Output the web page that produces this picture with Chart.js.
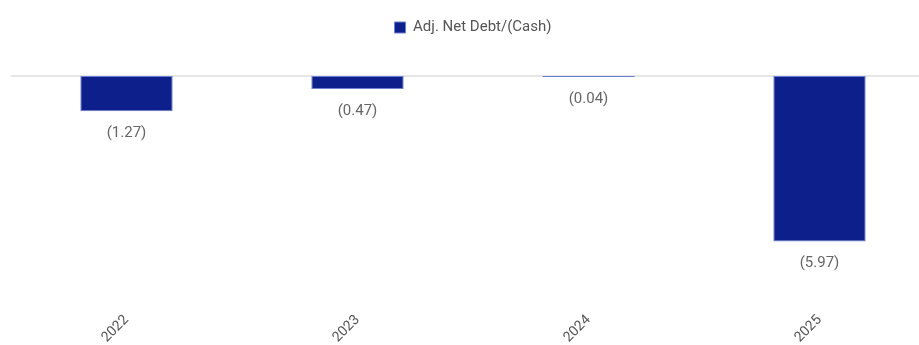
<!DOCTYPE html>
<html>
<head>
<meta charset="utf-8">
<script src="https://cdn.jsdelivr.net/npm/chart.js@4/dist/chart.umd.min.js"></script>
<style>
  html, body { margin: 0; padding: 0; background: #ffffff; overflow: hidden; }
  #wrap { width: 951px; height: 345px; }
</style>
</head>
<body>
<div id="wrap"><canvas id="c" width="951" height="345"></canvas></div>
<script>
// Fiscal years and adjusted net debt / (cash), in billions
const years = ['2022', '2023', '2024', '2025'];
const netDebt = [-1.27, -0.47, -0.04, -5.97];
const seriesName = 'Adj. Net Debt/(Cash)';

const fmt = v => v < 0 ? '(' + Math.abs(v).toFixed(2) + ')' : v.toFixed(2);

// Extra space between the legend and the plot
const legendGap = {
  id: 'legendGap',
  afterInit(chart) {
    const legend = chart.legend;
    const fit = legend.fit;
    legend.fit = function () {
      fit.call(this);
      this.height += 31;
    };
  }
};

// Zero baseline across the plot
const zeroLine = {
  id: 'zeroLine',
  beforeDatasetsDraw(chart) {
    const { ctx, chartArea, scales } = chart;
    const y = scales.y.getPixelForValue(0);
    ctx.save();
    ctx.strokeStyle = '#e6e6e6';
    ctx.lineWidth = 2;
    ctx.beginPath();
    ctx.moveTo(chartArea.left, y);
    ctx.lineTo(chartArea.right, y);
    ctx.stroke();
    ctx.restore();
  }
};

// Value labels under each bar
const valueLabels = {
  id: 'valueLabels',
  afterDatasetsDraw(chart) {
    const { ctx } = chart;
    const meta = chart.getDatasetMeta(0);
    ctx.save();
    ctx.font = '15px Roboto';
    ctx.fillStyle = '#666666';
    ctx.textAlign = 'center';
    ctx.textBaseline = 'middle';
    meta.data.forEach((bar, i) => {
      const v = chart.data.datasets[0].data[i];
      const y = Math.max(bar.y, bar.base) + 22;
      ctx.fillText(fmt(v), bar.x, y);
    });
    ctx.restore();
  }
};

new Chart(document.getElementById('c'), {
  type: 'bar',
  data: {
    labels: years,
    datasets: [{
      label: seriesName,
      data: netDebt,
      backgroundColor: '#0d1f8a',
      borderColor: '#6d7fd0',
      borderWidth: 1,
      borderSkipped: false,
      categoryPercentage: 0.8,
      barPercentage: 0.5
    }]
  },
  options: {
    responsive: false,
    devicePixelRatio: 1,
    animation: false,
    layout: { padding: { left: 11, right: 16, top: 8, bottom: -7 } },
    plugins: {
      legend: {
        display: true,
        position: 'top',
        labels: {
          boxWidth: 11,
          boxHeight: 11,
          padding: 12,
          color: '#555555',
          font: { family: 'Roboto', size: 15 }
        }
      },
      tooltip: { enabled: false }
    },
    scales: {
      x: {
        grid: { display: false },
        border: { display: false },
        ticks: {
          color: '#555555',
          font: { family: 'Roboto', size: 14 },
          minRotation: 45,
          maxRotation: 45,
          padding: 6
        }
      },
      y: {
        min: -8,
        max: 0,
        display: false
      }
    }
  },
  plugins: [legendGap, zeroLine, valueLabels]
});
</script>
</body>
</html>
